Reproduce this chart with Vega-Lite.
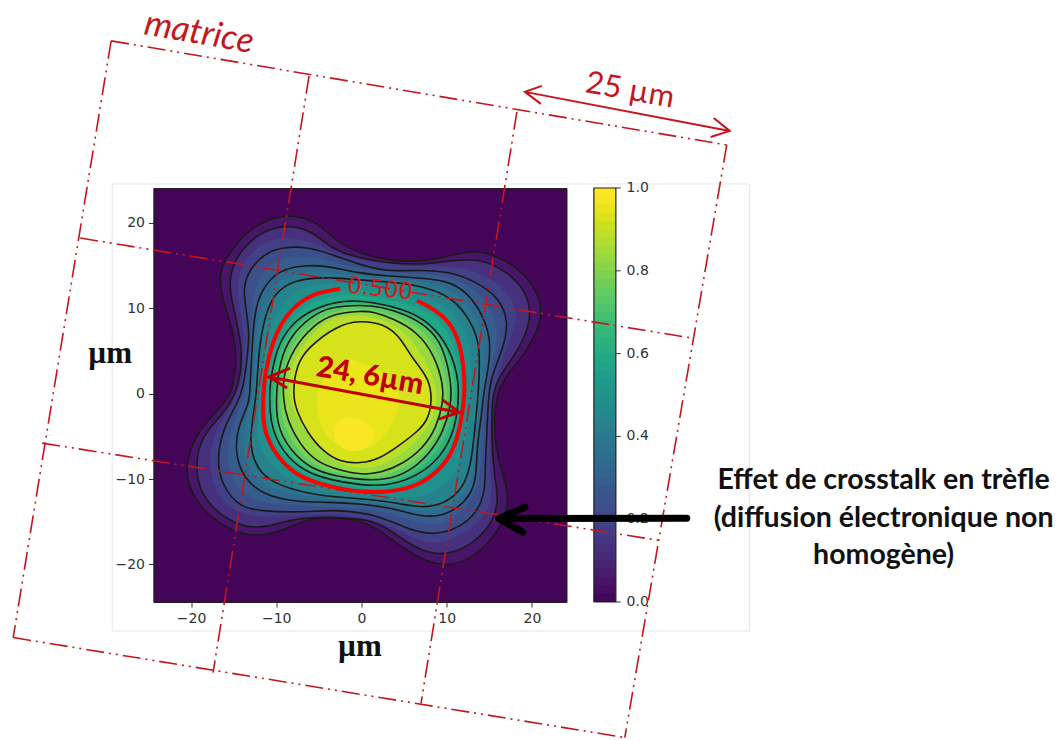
{"$schema":"https://vega.github.io/schema/vega-lite/v6.json","width":413,"height":414,"autosize":{"type":"none"},"padding":{"left":153.5,"top":188,"right":496.5,"bottom":138},"background":"white","view":{"fill":"#440558","stroke":"#222"},
"datasets":{
"c":[
{"m":1,"v":0.027,"i":0,"x":0,"y":18},{"m":1,"v":0.027,"i":1,"x":6,"y":17},{"m":1,"v":0.027,"i":2,"x":13,"y":18.5},{"m":1,"v":0.027,"i":3,"x":19.5,"y":16},{"m":1,"v":0.027,"i":4,"x":23,"y":11},{"m":1,"v":0.027,"i":5,"x":22.5,"y":6},{"m":1,"v":0.027,"i":6,"x":18.5,"y":1},{"m":1,"v":0.027,"i":7,"x":17.3,"y":-4},{"m":1,"v":0.027,"i":8,"x":18.5,"y":-10},{"m":1,"v":0.027,"i":9,"x":19,"y":-14},{"m":1,"v":0.027,"i":10,"x":17,"y":-18.5},{"m":1,"v":0.027,"i":11,"x":12.5,"y":-21.5},{"m":1,"v":0.027,"i":12,"x":7,"y":-21.5},{"m":1,"v":0.027,"i":13,"x":2,"y":-18},{"m":1,"v":0.027,"i":14,"x":-4,"y":-16},{"m":1,"v":0.027,"i":15,"x":-10,"y":-18},{"m":1,"v":0.027,"i":16,"x":-15,"y":-18.5},{"m":1,"v":0.027,"i":17,"x":-21,"y":-14},{"m":1,"v":0.027,"i":18,"x":-22.5,"y":-8},{"m":1,"v":0.027,"i":19,"x":-20,"y":-3},{"m":1,"v":0.027,"i":20,"x":-17,"y":0},{"m":1,"v":0.027,"i":21,"x":-16.5,"y":5},{"m":1,"v":0.027,"i":22,"x":-18,"y":12},{"m":1,"v":0.027,"i":23,"x":-18,"y":17},{"m":1,"v":0.027,"i":24,"x":-13,"y":22},{"m":1,"v":0.027,"i":25,"x":-8,"y":23},{"m":1,"v":0.027,"i":26,"x":-3,"y":20.5},
{"v":0.07,"i":0,"x":-0.2,"y":16.4},{"v":0.07,"i":1,"x":3.7,"y":15.5},{"v":0.07,"i":2,"x":7.6,"y":15.5},{"v":0.07,"i":3,"x":10.4,"y":16.2},{"v":0.07,"i":4,"x":13.1,"y":16.8},{"v":0.07,"i":5,"x":15.5,"y":16.3},{"v":0.07,"i":6,"x":18.6,"y":14.7},{"v":0.07,"i":7,"x":20.9,"y":11.6},{"v":0.07,"i":8,"x":21.3,"y":8.8},{"v":0.07,"i":9,"x":19.4,"y":4.9},{"v":0.07,"i":10,"x":17,"y":2.2},{"v":0.07,"i":11,"x":15.8,"y":0},{"v":0.07,"i":12,"x":15.5,"y":-4.4},{"v":0.07,"i":13,"x":16,"y":-7.6},{"v":0.07,"i":14,"x":17,"y":-10.7},{"v":0.07,"i":15,"x":17.4,"y":-13.4},{"v":0.07,"i":16,"x":15.5,"y":-17},{"v":0.07,"i":17,"x":12.7,"y":-19.5},{"v":0.07,"i":18,"x":10,"y":-20.2},{"v":0.07,"i":19,"x":7.6,"y":-19.7},{"v":0.07,"i":20,"x":4.9,"y":-18.1},{"v":0.07,"i":21,"x":2.2,"y":-16},{"v":0.07,"i":22,"x":-0.2,"y":-14.8},{"v":0.07,"i":23,"x":-3.7,"y":-14.4},{"v":0.07,"i":24,"x":-6.4,"y":-14.7},{"v":0.07,"i":25,"x":-9.2,"y":-16},{"v":0.07,"i":26,"x":-11.5,"y":-16.6},{"v":0.07,"i":27,"x":-13.5,"y":-16.6},{"v":0.07,"i":28,"x":-17,"y":-15.2},{"v":0.07,"i":29,"x":-19.8,"y":-12.3},{"v":0.07,"i":30,"x":-20.9,"y":-8.6},{"v":0.07,"i":31,"x":-19.3,"y":-4.5},{"v":0.07,"i":32,"x":-17,"y":-2.1},{"v":0.07,"i":33,"x":-15.4,"y":-0.2},{"v":0.07,"i":34,"x":-15,"y":1.4},{"v":0.07,"i":35,"x":-14.6,"y":4.1},{"v":0.07,"i":36,"x":-15,"y":7.3},{"v":0.07,"i":37,"x":-16,"y":10},{"v":0.07,"i":38,"x":-16.7,"y":13.1},{"v":0.07,"i":39,"x":-16.4,"y":15.1},{"v":0.07,"i":40,"x":-14.6,"y":17.8},{"v":0.07,"i":41,"x":-11.9,"y":20.2},{"v":0.07,"i":42,"x":-8.4,"y":21.1},{"v":0.07,"i":43,"x":-5.3,"y":20.2},{"v":0.07,"i":44,"x":-2.9,"y":17.8},
{"v":0.15,"i":0,"x":-0.2,"y":15.9},{"v":0.15,"i":1,"x":3,"y":15.3},{"v":0.15,"i":2,"x":6.9,"y":15.1},{"v":0.15,"i":3,"x":10,"y":15.5},{"v":0.15,"i":4,"x":12.7,"y":15.8},{"v":0.15,"i":5,"x":14.7,"y":15.5},{"v":0.15,"i":6,"x":17,"y":14.3},{"v":0.15,"i":7,"x":19.4,"y":12},{"v":0.15,"i":8,"x":20,"y":8.8},{"v":0.15,"i":9,"x":18.6,"y":5.3},{"v":0.15,"i":10,"x":16.2,"y":2.2},{"v":0.15,"i":11,"x":15.4,"y":0},{"v":0.15,"i":12,"x":15.3,"y":-2.1},{"v":0.15,"i":13,"x":15.3,"y":-6},{"v":0.15,"i":14,"x":15.6,"y":-9.9},{"v":0.15,"i":15,"x":16.2,"y":-12.7},{"v":0.15,"i":16,"x":15,"y":-15.8},{"v":0.15,"i":17,"x":12.3,"y":-18.1},{"v":0.15,"i":18,"x":9.6,"y":-18.9},{"v":0.15,"i":19,"x":7.2,"y":-18.5},{"v":0.15,"i":20,"x":4.9,"y":-17.1},{"v":0.15,"i":21,"x":2.2,"y":-15.2},{"v":0.15,"i":22,"x":-0.2,"y":-14.6},{"v":0.15,"i":23,"x":-5.7,"y":-14.4},{"v":0.15,"i":24,"x":-8.4,"y":-14.8},{"v":0.15,"i":25,"x":-11.1,"y":-15.6},{"v":0.15,"i":26,"x":-13.1,"y":-15.7},{"v":0.15,"i":27,"x":-15.4,"y":-15},{"v":0.15,"i":28,"x":-18.4,"y":-12.7},{"v":0.15,"i":29,"x":-19.6,"y":-9.1},{"v":0.15,"i":30,"x":-18.9,"y":-5},{"v":0.15,"i":31,"x":-16,"y":-2.2},{"v":0.15,"i":32,"x":-14.8,"y":0},{"v":0.15,"i":33,"x":-14.2,"y":2},{"v":0.15,"i":34,"x":-14,"y":5},{"v":0.15,"i":35,"x":-14.6,"y":8.4},{"v":0.15,"i":36,"x":-15.4,"y":11.6},{"v":0.15,"i":37,"x":-15.5,"y":13.9},{"v":0.15,"i":38,"x":-14.3,"y":16.8},{"v":0.15,"i":39,"x":-11.5,"y":19.2},{"v":0.15,"i":40,"x":-8.4,"y":19.8},{"v":0.15,"i":41,"x":-5.7,"y":19},{"v":0.15,"i":42,"x":-3.3,"y":16.8},
{"m":1,"v":0.2,"i":0,"x":0,"y":15.5},{"m":1,"v":0.2,"i":1,"x":7,"y":14.8},{"m":1,"v":0.2,"i":2,"x":12,"y":15},{"m":1,"v":0.2,"i":3,"x":16,"y":13.2},{"m":1,"v":0.2,"i":4,"x":18.6,"y":10},{"m":1,"v":0.2,"i":5,"x":17.7,"y":7},{"m":1,"v":0.2,"i":6,"x":15.8,"y":2.2},{"m":1,"v":0.2,"i":7,"x":15,"y":-3},{"m":1,"v":0.2,"i":8,"x":15,"y":-9},{"m":1,"v":0.2,"i":9,"x":15.5,"y":-12.3},{"m":1,"v":0.2,"i":10,"x":14,"y":-15.2},{"m":1,"v":0.2,"i":11,"x":10,"y":-17.5},{"m":1,"v":0.2,"i":12,"x":7.4,"y":-17.5},{"m":1,"v":0.2,"i":13,"x":4.9,"y":-16.3},{"m":1,"v":0.2,"i":14,"x":2,"y":-14.8},{"m":1,"v":0.2,"i":15,"x":-3,"y":-14},{"m":1,"v":0.2,"i":16,"x":-8,"y":-14.3},{"m":1,"v":0.2,"i":17,"x":-13,"y":-14.6},{"m":1,"v":0.2,"i":18,"x":-16.5,"y":-13},{"m":1,"v":0.2,"i":19,"x":-18,"y":-9},{"m":1,"v":0.2,"i":20,"x":-17.5,"y":-4.5},{"m":1,"v":0.2,"i":21,"x":-14.7,"y":-1},{"m":1,"v":0.2,"i":22,"x":-13.8,"y":3},{"m":1,"v":0.2,"i":23,"x":-13.8,"y":7.5},{"m":1,"v":0.2,"i":24,"x":-14.6,"y":11.5},{"m":1,"v":0.2,"i":25,"x":-14.5,"y":14},{"m":1,"v":0.2,"i":26,"x":-13,"y":16.8},{"m":1,"v":0.2,"i":27,"x":-10,"y":18.5},{"m":1,"v":0.2,"i":28,"x":-6,"y":18},{"m":1,"v":0.2,"i":29,"x":-3.5,"y":16.5},
{"v":0.25,"i":0,"x":-0.2,"y":15.1},{"v":0.25,"i":1,"x":3,"y":14.3},{"v":0.25,"i":2,"x":6.9,"y":14.5},{"v":0.25,"i":3,"x":10.4,"y":14.3},{"v":0.25,"i":4,"x":13.5,"y":13.1},{"v":0.25,"i":5,"x":16.2,"y":11.2},{"v":0.25,"i":6,"x":17.3,"y":8.4},{"v":0.25,"i":7,"x":16.6,"y":5.3},{"v":0.25,"i":8,"x":15.3,"y":2.2},{"v":0.25,"i":9,"x":14.9,"y":0},{"v":0.25,"i":10,"x":14.7,"y":-4.8},{"v":0.25,"i":11,"x":14.5,"y":-8.7},{"v":0.25,"i":12,"x":14.5,"y":-11.9},{"v":0.25,"i":13,"x":13.1,"y":-14.6},{"v":0.25,"i":14,"x":10.4,"y":-16.2},{"v":0.25,"i":15,"x":7.6,"y":-16.5},{"v":0.25,"i":16,"x":4.9,"y":-15.6},{"v":0.25,"i":17,"x":2.2,"y":-14.4},{"v":0.25,"i":18,"x":-0.2,"y":-13.9},{"v":0.25,"i":19,"x":-3.3,"y":-13.6},{"v":0.25,"i":20,"x":-7.2,"y":-13.9},{"v":0.25,"i":21,"x":-11.1,"y":-13.8},{"v":0.25,"i":22,"x":-14.3,"y":-13.4},{"v":0.25,"i":23,"x":-16.4,"y":-10.7},{"v":0.25,"i":24,"x":-17,"y":-7.6},{"v":0.25,"i":25,"x":-16.2,"y":-4},{"v":0.25,"i":26,"x":-14.5,"y":-1},{"v":0.25,"i":27,"x":-13.9,"y":0.6},{"v":0.25,"i":28,"x":-13.5,"y":3.4},{"v":0.25,"i":29,"x":-13.1,"y":6.9},{"v":0.25,"i":30,"x":-13.5,"y":9.6},{"v":0.25,"i":31,"x":-13.9,"y":12.3},{"v":0.25,"i":32,"x":-13.3,"y":14.3},{"v":0.25,"i":33,"x":-11.5,"y":16.4},{"v":0.25,"i":34,"x":-9.2,"y":17.2},{"v":0.25,"i":35,"x":-6.4,"y":17.2},{"v":0.25,"i":36,"x":-3.7,"y":16.4},
{"m":1,"v":0.3,"i":0,"x":0,"y":14.5},{"m":1,"v":0.3,"i":1,"x":6.5,"y":14},{"m":1,"v":0.3,"i":2,"x":10.2,"y":13.8},{"m":1,"v":0.3,"i":3,"x":13,"y":12.5},{"m":1,"v":0.3,"i":4,"x":15.4,"y":10},{"m":1,"v":0.3,"i":5,"x":16.2,"y":6.5},{"m":1,"v":0.3,"i":6,"x":15,"y":2.5},{"m":1,"v":0.3,"i":7,"x":14.5,"y":0},{"m":1,"v":0.3,"i":8,"x":14.2,"y":-5},{"m":1,"v":0.3,"i":9,"x":14,"y":-9},{"m":1,"v":0.3,"i":10,"x":13.3,"y":-12.3},{"m":1,"v":0.3,"i":11,"x":10,"y":-15.3},{"m":1,"v":0.3,"i":12,"x":7.2,"y":-15.4},{"m":1,"v":0.3,"i":13,"x":3.5,"y":-14},{"m":1,"v":0.3,"i":14,"x":0,"y":-13.4},{"m":1,"v":0.3,"i":15,"x":-5,"y":-13.2},{"m":1,"v":0.3,"i":16,"x":-9.5,"y":-13},{"m":1,"v":0.3,"i":17,"x":-13,"y":-12.5},{"m":1,"v":0.3,"i":18,"x":-15.2,"y":-10.3},{"m":1,"v":0.3,"i":19,"x":-15.9,"y":-7.4},{"m":1,"v":0.3,"i":20,"x":-15.3,"y":-4},{"m":1,"v":0.3,"i":21,"x":-13.7,"y":-0.5},{"m":1,"v":0.3,"i":22,"x":-13.2,"y":3.8},{"m":1,"v":0.3,"i":23,"x":-12.9,"y":7.3},{"m":1,"v":0.3,"i":24,"x":-12.9,"y":10.2},{"m":1,"v":0.3,"i":25,"x":-12.3,"y":13.5},{"m":1,"v":0.3,"i":26,"x":-10,"y":15.9},{"m":1,"v":0.3,"i":27,"x":-6.2,"y":16.2},{"m":1,"v":0.3,"i":28,"x":-3.7,"y":15.6},
{"v":0.35,"i":0,"x":-0.2,"y":14.1},{"v":0.35,"i":1,"x":3,"y":13.8},{"v":0.35,"i":2,"x":6.1,"y":13.6},{"v":0.35,"i":3,"x":10,"y":13.3},{"v":0.35,"i":4,"x":12.3,"y":12},{"v":0.35,"i":5,"x":14.3,"y":9.2},{"v":0.35,"i":6,"x":15.2,"y":6.1},{"v":0.35,"i":7,"x":14.9,"y":3},{"v":0.35,"i":8,"x":14.3,"y":0},{"v":0.35,"i":9,"x":14.1,"y":-2.5},{"v":0.35,"i":10,"x":13.5,"y":-6.4},{"v":0.35,"i":11,"x":13.5,"y":-10.3},{"v":0.35,"i":12,"x":12.3,"y":-12.7},{"v":0.35,"i":13,"x":9.6,"y":-14.4},{"v":0.35,"i":14,"x":6.9,"y":-14.4},{"v":0.35,"i":15,"x":3.7,"y":-13.4},{"v":0.35,"i":16,"x":0,"y":-12.9},{"v":0.35,"i":17,"x":-3.7,"y":-12.7},{"v":0.35,"i":18,"x":-7.6,"y":-12.7},{"v":0.35,"i":19,"x":-11.5,"y":-11.9},{"v":0.35,"i":20,"x":-13.8,"y":-9.9},{"v":0.35,"i":21,"x":-14.8,"y":-7.2},{"v":0.35,"i":22,"x":-14.6,"y":-4},{"v":0.35,"i":23,"x":-13.1,"y":-1},{"v":0.35,"i":24,"x":-13.1,"y":0.6},{"v":0.35,"i":25,"x":-12.9,"y":4.1},{"v":0.35,"i":26,"x":-12.7,"y":7.7},{"v":0.35,"i":27,"x":-12.3,"y":10.8},{"v":0.35,"i":28,"x":-11.1,"y":13.1},{"v":0.35,"i":29,"x":-9.2,"y":14.7},{"v":0.35,"i":30,"x":-6,"y":15.1},{"v":0.35,"i":31,"x":-3.7,"y":14.9},
{"m":1,"v":0.4,"i":0,"x":0,"y":13.7},{"m":1,"v":0.4,"i":1,"x":5,"y":13.4},{"m":1,"v":0.4,"i":2,"x":8.8,"y":12.9},{"m":1,"v":0.4,"i":3,"x":11.5,"y":11.6},{"m":1,"v":0.4,"i":4,"x":13.6,"y":8.8},{"m":1,"v":0.4,"i":5,"x":14.5,"y":5.9},{"m":1,"v":0.4,"i":6,"x":14.3,"y":2.5},{"m":1,"v":0.4,"i":7,"x":14,"y":0},{"m":1,"v":0.4,"i":8,"x":13.7,"y":-3.5},{"m":1,"v":0.4,"i":9,"x":13.2,"y":-7.2},{"m":1,"v":0.4,"i":10,"x":13.2,"y":-9.2},{"m":1,"v":0.4,"i":11,"x":12.1,"y":-11.9},{"m":1,"v":0.4,"i":12,"x":9.6,"y":-13.7},{"m":1,"v":0.4,"i":13,"x":6.9,"y":-13.9},{"m":1,"v":0.4,"i":14,"x":3.7,"y":-13},{"m":1,"v":0.4,"i":15,"x":0,"y":-12.6},{"m":1,"v":0.4,"i":16,"x":-5,"y":-12.3},{"m":1,"v":0.4,"i":17,"x":-11,"y":-11.2},{"m":1,"v":0.4,"i":18,"x":-13,"y":-9.3},{"m":1,"v":0.4,"i":19,"x":-14,"y":-6.6},{"m":1,"v":0.4,"i":20,"x":-13.8,"y":-4},{"m":1,"v":0.4,"i":21,"x":-12.7,"y":0.4},{"m":1,"v":0.4,"i":22,"x":-12.5,"y":3.4},{"m":1,"v":0.4,"i":23,"x":-12.3,"y":7},{"m":1,"v":0.4,"i":24,"x":-11.8,"y":10},{"m":1,"v":0.4,"i":25,"x":-10.6,"y":12.5},{"m":1,"v":0.4,"i":26,"x":-8.6,"y":14},{"m":1,"v":0.4,"i":27,"x":-5,"y":14.4},
{"v":0.45,"i":0,"x":-0.2,"y":13.3},{"v":0.45,"i":1,"x":3.7,"y":13.1},{"v":0.45,"i":2,"x":7.6,"y":12.5},{"v":0.45,"i":3,"x":10.8,"y":11.2},{"v":0.45,"i":4,"x":12.9,"y":8.4},{"v":0.45,"i":5,"x":13.9,"y":5.7},{"v":0.45,"i":6,"x":13.8,"y":2},{"v":0.45,"i":7,"x":13.7,"y":0},{"v":0.45,"i":8,"x":13.3,"y":-4.1},{"v":0.45,"i":9,"x":12.9,"y":-8},{"v":0.45,"i":10,"x":12,"y":-11.1},{"v":0.45,"i":11,"x":9.6,"y":-13},{"v":0.45,"i":12,"x":6.9,"y":-13.4},{"v":0.45,"i":13,"x":3.7,"y":-12.7},{"v":0.45,"i":14,"x":0,"y":-12.3},{"v":0.45,"i":15,"x":-2.9,"y":-12.1},{"v":0.45,"i":16,"x":-6.4,"y":-11.7},{"v":0.45,"i":17,"x":-10.4,"y":-10.5},{"v":0.45,"i":18,"x":-12.3,"y":-8.8},{"v":0.45,"i":19,"x":-13.1,"y":-6},{"v":0.45,"i":20,"x":-12.9,"y":-4},{"v":0.45,"i":21,"x":-12.3,"y":0.2},{"v":0.45,"i":22,"x":-12.2,"y":2.6},{"v":0.45,"i":23,"x":-11.9,"y":6.1},{"v":0.45,"i":24,"x":-11.3,"y":9.2},{"v":0.45,"i":25,"x":-10.2,"y":11.8},{"v":0.45,"i":26,"x":-8,"y":13.3},{"v":0.45,"i":27,"x":-4.5,"y":13.7},
{"m":1,"v":0.5,"i":0,"x":2,"y":12.7},{"m":1,"v":0.5,"i":1,"x":6.5,"y":11.7},{"m":1,"v":0.5,"i":2,"x":9.6,"y":10.6},{"m":1,"v":0.5,"i":3,"x":11.6,"y":8.4},{"m":1,"v":0.5,"i":4,"x":12.8,"y":5.7},{"m":1,"v":0.5,"i":5,"x":13,"y":1},{"m":1,"v":0.5,"i":6,"x":12.6,"y":-3},{"m":1,"v":0.5,"i":7,"x":12,"y":-7},{"m":1,"v":0.5,"i":8,"x":10.8,"y":-9.9},{"m":1,"v":0.5,"i":9,"x":8.2,"y":-11.9},{"m":1,"v":0.5,"i":10,"x":5,"y":-12.3},{"m":1,"v":0.5,"i":11,"x":1.8,"y":-12},{"m":1,"v":0.5,"i":12,"x":-3.3,"y":-11.5},{"m":1,"v":0.5,"i":13,"x":-6.8,"y":-10.8},{"m":1,"v":0.5,"i":14,"x":-10.1,"y":-9.2},{"m":1,"v":0.5,"i":15,"x":-12.2,"y":-6},{"m":1,"v":0.5,"i":16,"x":-12.2,"y":-3},{"m":1,"v":0.5,"i":17,"x":-11.9,"y":0.5},{"m":1,"v":0.5,"i":18,"x":-11.4,"y":4.5},{"m":1,"v":0.5,"i":19,"x":-10.5,"y":8.5},{"m":1,"v":0.5,"i":20,"x":-9,"y":11},{"m":1,"v":0.5,"i":21,"x":-6.8,"y":12.7},{"m":1,"v":0.5,"i":22,"x":-3,"y":13},
{"v":0.55,"i":0,"x":6.5,"y":10.9},{"v":0.55,"i":1,"x":8.4,"y":10},{"v":0.55,"i":2,"x":10.4,"y":8.4},{"v":0.55,"i":3,"x":11.7,"y":5.7},{"v":0.55,"i":4,"x":12.2,"y":1},{"v":0.55,"i":5,"x":11.9,"y":-2.1},{"v":0.55,"i":6,"x":11.1,"y":-6},{"v":0.55,"i":7,"x":9.6,"y":-8.6},{"v":0.55,"i":8,"x":6.9,"y":-10.7},{"v":0.55,"i":9,"x":3.7,"y":-11.5},{"v":0.55,"i":10,"x":0,"y":-11.6},{"v":0.55,"i":11,"x":-3.7,"y":-10.9},{"v":0.55,"i":12,"x":-7.2,"y":-9.9},{"v":0.55,"i":13,"x":-9.8,"y":-7.6},{"v":0.55,"i":14,"x":-11.3,"y":-4.8},{"v":0.55,"i":15,"x":-11.6,"y":-2.5},{"v":0.55,"i":16,"x":-11.5,"y":1},{"v":0.55,"i":17,"x":-10.9,"y":4.5},{"v":0.55,"i":18,"x":-9.8,"y":7.7},{"v":0.55,"i":19,"x":-8,"y":10.2},{"v":0.55,"i":20,"x":-5.6,"y":11.8},{"v":0.55,"i":21,"x":-2.5,"y":12.3},{"v":0.55,"i":22,"x":2,"y":12.1},
{"m":1,"v":0.6,"i":0,"x":0.5,"y":11.6},{"m":1,"v":0.6,"i":1,"x":5.7,"y":10.5},{"m":1,"v":0.6,"i":2,"x":9.2,"y":8.9},{"m":1,"v":0.6,"i":3,"x":11,"y":5.6},{"m":1,"v":0.6,"i":4,"x":11.85,"y":1.2},{"m":1,"v":0.6,"i":5,"x":11.6,"y":-2.1},{"m":1,"v":0.6,"i":6,"x":10.85,"y":-5.6},{"m":1,"v":0.6,"i":7,"x":9.2,"y":-8.3},{"m":1,"v":0.6,"i":8,"x":6.4,"y":-10.3},{"m":1,"v":0.6,"i":9,"x":3.3,"y":-11.15},{"m":1,"v":0.6,"i":10,"x":-0.1,"y":-11.15},{"m":1,"v":0.6,"i":11,"x":-3.7,"y":-10.5},{"m":1,"v":0.6,"i":12,"x":-7,"y":-9.5},{"m":1,"v":0.6,"i":13,"x":-9.5,"y":-7.2},{"m":1,"v":0.6,"i":14,"x":-11,"y":-4.2},{"m":1,"v":0.6,"i":15,"x":-11.2,"y":-0.5},{"m":1,"v":0.6,"i":16,"x":-10.8,"y":3},{"m":1,"v":0.6,"i":17,"x":-10,"y":6},{"m":1,"v":0.6,"i":18,"x":-8.2,"y":9.1},{"m":1,"v":0.6,"i":19,"x":-5.8,"y":10.8},{"m":1,"v":0.6,"i":20,"x":-2.7,"y":11.6},
{"v":0.65,"i":0,"x":-0.2,"y":11},{"v":0.65,"i":1,"x":4.9,"y":10},{"v":0.65,"i":2,"x":8,"y":8.4},{"v":0.65,"i":3,"x":10.4,"y":5.3},{"v":0.65,"i":4,"x":11.5,"y":1.4},{"v":0.65,"i":5,"x":11.3,"y":-2.1},{"v":0.65,"i":6,"x":10.6,"y":-5.2},{"v":0.65,"i":7,"x":8.8,"y":-8},{"v":0.65,"i":8,"x":6,"y":-9.9},{"v":0.65,"i":9,"x":3,"y":-10.8},{"v":0.65,"i":10,"x":-0.2,"y":-10.7},{"v":0.65,"i":11,"x":-3.7,"y":-10.1},{"v":0.65,"i":12,"x":-6.8,"y":-9.1},{"v":0.65,"i":13,"x":-9.3,"y":-6.8},{"v":0.65,"i":14,"x":-10.7,"y":-3.7},{"v":0.65,"i":15,"x":-10.8,"y":0},{"v":0.65,"i":16,"x":-10.7,"y":1.4},{"v":0.65,"i":17,"x":-10,"y":5.3},{"v":0.65,"i":18,"x":-8.4,"y":8},{"v":0.65,"i":19,"x":-6,"y":9.8},{"v":0.65,"i":20,"x":-3,"y":10.8},
{"m":1,"v":0.7,"i":0,"x":1,"y":10.7},{"m":1,"v":0.7,"i":1,"x":4.9,"y":9.7},{"m":1,"v":0.7,"i":2,"x":7.8,"y":8.2},{"m":1,"v":0.7,"i":3,"x":10,"y":5.5},{"m":1,"v":0.7,"i":4,"x":11.05,"y":1.2},{"m":1,"v":0.7,"i":5,"x":10.9,"y":-1.7},{"m":1,"v":0.7,"i":6,"x":10.1,"y":-4.8},{"m":1,"v":0.7,"i":7,"x":8.4,"y":-7.5},{"m":1,"v":0.7,"i":8,"x":5.85,"y":-9.5},{"m":1,"v":0.7,"i":9,"x":3,"y":-10.45},{"m":1,"v":0.7,"i":10,"x":-0.1,"y":-10.4},{"m":1,"v":0.7,"i":11,"x":-3.3,"y":-9.9},{"m":1,"v":0.7,"i":12,"x":-6.4,"y":-9},{"m":1,"v":0.7,"i":13,"x":-8.9,"y":-6.7},{"m":1,"v":0.7,"i":14,"x":-10.35,"y":-3.7},{"m":1,"v":0.7,"i":15,"x":-10.4,"y":0.1},{"m":1,"v":0.7,"i":16,"x":-9.8,"y":4.5},{"m":1,"v":0.7,"i":17,"x":-8.4,"y":7.35},{"m":1,"v":0.7,"i":18,"x":-6,"y":9.4},{"m":1,"v":0.7,"i":19,"x":-3.3,"y":10.5},
{"v":0.75,"i":0,"x":2.2,"y":10.2},{"v":0.75,"i":1,"x":4.9,"y":9.4},{"v":0.75,"i":2,"x":7.6,"y":8},{"v":0.75,"i":3,"x":9.6,"y":5.7},{"v":0.75,"i":4,"x":10.6,"y":1},{"v":0.75,"i":5,"x":10.5,"y":-1.3},{"v":0.75,"i":6,"x":9.6,"y":-4.5},{"v":0.75,"i":7,"x":8,"y":-7},{"v":0.75,"i":8,"x":5.7,"y":-9.1},{"v":0.75,"i":9,"x":3,"y":-10.1},{"v":0.75,"i":10,"x":0,"y":-10.1},{"v":0.75,"i":11,"x":-2.9,"y":-9.7},{"v":0.75,"i":12,"x":-6,"y":-8.8},{"v":0.75,"i":13,"x":-8.4,"y":-6.6},{"v":0.75,"i":14,"x":-10,"y":-3.7},{"v":0.75,"i":15,"x":-10,"y":0.2},{"v":0.75,"i":16,"x":-9.6,"y":3.7},{"v":0.75,"i":17,"x":-8.4,"y":6.7},{"v":0.75,"i":18,"x":-6,"y":9},{"v":0.75,"i":19,"x":-3.7,"y":10.2},{"v":0.75,"i":20,"x":0,"y":10.4},
{"m":1,"v":0.8,"i":0,"x":1.2,"y":9.95},{"m":1,"v":0.8,"i":1,"x":4.3,"y":9.1},{"m":1,"v":0.8,"i":2,"x":7,"y":7.7},{"m":1,"v":0.8,"i":3,"x":9.1,"y":5.1},{"m":1,"v":0.8,"i":4,"x":10.1,"y":1},{"m":1,"v":0.8,"i":5,"x":10.05,"y":-1.1},{"m":1,"v":0.8,"i":6,"x":9.2,"y":-4.25},{"m":1,"v":0.8,"i":7,"x":7.6,"y":-6.7},{"m":1,"v":0.8,"i":8,"x":5.3,"y":-8.65},{"m":1,"v":0.8,"i":9,"x":2.6,"y":-9.7},{"m":1,"v":0.8,"i":10,"x":0,"y":-9.8},{"m":1,"v":0.8,"i":11,"x":-2.7,"y":-9.35},{"m":1,"v":0.8,"i":12,"x":-5.65,"y":-8.4},{"m":1,"v":0.8,"i":13,"x":-7.8,"y":-6.3},{"m":1,"v":0.8,"i":14,"x":-9.4,"y":-3.3},{"m":1,"v":0.8,"i":15,"x":-9.6,"y":-0.1},{"m":1,"v":0.8,"i":16,"x":-8.8,"y":4.5},{"m":1,"v":0.8,"i":17,"x":-7.2,"y":7},{"m":1,"v":0.8,"i":18,"x":-4.8,"y":9.1},{"m":1,"v":0.8,"i":19,"x":-2,"y":10},
{"v":0.85,"i":0,"x":1.4,"y":9.6},{"v":0.85,"i":1,"x":3.7,"y":8.8},{"v":0.85,"i":2,"x":6.5,"y":7.3},{"v":0.85,"i":3,"x":8.6,"y":4.5},{"v":0.85,"i":4,"x":9.6,"y":1},{"v":0.85,"i":5,"x":9.6,"y":-0.9},{"v":0.85,"i":6,"x":8.8,"y":-4},{"v":0.85,"i":7,"x":7.2,"y":-6.4},{"v":0.85,"i":8,"x":4.9,"y":-8.2},{"v":0.85,"i":9,"x":2.2,"y":-9.3},{"v":0.85,"i":10,"x":0,"y":-9.5},{"v":0.85,"i":11,"x":-2.5,"y":-9},{"v":0.85,"i":12,"x":-5.3,"y":-8},{"v":0.85,"i":13,"x":-7.2,"y":-6},{"v":0.85,"i":14,"x":-8.8,"y":-2.9},{"v":0.85,"i":15,"x":-9.2,"y":-0.5},{"v":0.85,"i":16,"x":-9.2,"y":2.2},{"v":0.85,"i":17,"x":-8,"y":5.3},{"v":0.85,"i":18,"x":-5.7,"y":8},{"v":0.85,"i":19,"x":-3.3,"y":9.4},{"v":0.85,"i":20,"x":0,"y":9.7},
{"m":1,"v":0.9,"i":0,"x":0.6,"y":9.2},{"m":1,"v":0.9,"i":1,"x":3.2,"y":8.4},{"m":1,"v":0.9,"i":2,"x":5.6,"y":6.9},{"m":1,"v":0.9,"i":3,"x":7.2,"y":4.4},{"m":1,"v":0.9,"i":4,"x":8.9,"y":1},{"m":1,"v":0.9,"i":5,"x":8.9,"y":-1.8},{"m":1,"v":0.9,"i":6,"x":7.6,"y":-4.3},{"m":1,"v":0.9,"i":7,"x":5.7,"y":-6.3},{"m":1,"v":0.9,"i":8,"x":3.5,"y":-7.9},{"m":1,"v":0.9,"i":9,"x":1,"y":-8.8},{"m":1,"v":0.9,"i":10,"x":-1.3,"y":-8.7},{"m":1,"v":0.9,"i":11,"x":-3.9,"y":-7.4},{"m":1,"v":0.9,"i":12,"x":-5.9,"y":-5.3},{"m":1,"v":0.9,"i":13,"x":-7.4,"y":-3.3},{"m":1,"v":0.9,"i":14,"x":-8.65,"y":-0.2},{"m":1,"v":0.9,"i":15,"x":-8.4,"y":2.8},{"m":1,"v":0.9,"i":16,"x":-7.2,"y":5.3},{"m":1,"v":0.9,"i":17,"x":-4.3,"y":8.7},{"m":1,"v":0.9,"i":18,"x":-1.5,"y":9.1},
{"v":0.94,"i":0,"x":-0.2,"y":8.6},{"v":0.94,"i":1,"x":2.6,"y":8.2},{"v":0.94,"i":2,"x":4.5,"y":6.7},{"v":0.94,"i":3,"x":5.7,"y":4.5},{"v":0.94,"i":4,"x":7.6,"y":2.2},{"v":0.94,"i":5,"x":8.3,"y":0.2},{"v":0.94,"i":6,"x":8,"y":-2.9},{"v":0.94,"i":7,"x":6.5,"y":-4.5},{"v":0.94,"i":8,"x":4.5,"y":-6},{"v":0.94,"i":9,"x":2.2,"y":-7.6},{"v":0.94,"i":10,"x":-0.2,"y":-8.2},{"v":0.94,"i":11,"x":-2.5,"y":-8},{"v":0.94,"i":12,"x":-4.5,"y":-6.8},{"v":0.94,"i":13,"x":-6.4,"y":-4.5},{"v":0.94,"i":14,"x":-7.6,"y":-2.1},{"v":0.94,"i":15,"x":-8.1,"y":0},{"v":0.94,"i":16,"x":-7.6,"y":3.4},{"v":0.94,"i":17,"x":-6.4,"y":5.3},{"v":0.94,"i":18,"x":-2.9,"y":8},
{"m":1,"v":0.97,"i":0,"x":-1,"y":4},{"m":1,"v":0.97,"i":1,"x":2,"y":3},{"m":1,"v":0.97,"i":2,"x":5,"y":0},{"m":1,"v":0.97,"i":3,"x":4,"y":-3},{"m":1,"v":0.97,"i":4,"x":2,"y":-6},{"m":1,"v":0.97,"i":5,"x":-1,"y":-7},{"m":1,"v":0.97,"i":6,"x":-4,"y":-5.5},{"m":1,"v":0.97,"i":7,"x":-5.5,"y":-2},{"m":1,"v":0.97,"i":8,"x":-5,"y":1.5},{"m":1,"v":0.97,"i":9,"x":-2,"y":4},
{"m":1,"v":0.995,"i":0,"x":-1,"y":-2.5},{"m":1,"v":0.995,"i":1,"x":2,"y":-4},{"m":1,"v":0.995,"i":2,"x":1,"y":-6.5},{"m":1,"v":0.995,"i":3,"x":-1.5,"y":-7},{"m":1,"v":0.995,"i":4,"x":-3.5,"y":-5.5},{"m":1,"v":0.995,"i":5,"x":-3,"y":-3}
],
"bar":[{"x":27.26,"x2":29.84,"v":0.025,"y":-24.4,"y2":-23.33},{"x":27.26,"x2":29.84,"v":0.045,"y":-23.43,"y2":-22.36},{"x":27.26,"x2":29.84,"v":0.065,"y":-22.46,"y2":-21.39},{"x":27.26,"x2":29.84,"v":0.085,"y":-21.49,"y2":-20.42},{"x":27.26,"x2":29.84,"v":0.105,"y":-20.52,"y2":-19.45},{"x":27.26,"x2":29.84,"v":0.125,"y":-19.55,"y2":-18.48},{"x":27.26,"x2":29.84,"v":0.145,"y":-18.58,"y2":-17.51},{"x":27.26,"x2":29.84,"v":0.165,"y":-17.61,"y2":-16.54},{"x":27.26,"x2":29.84,"v":0.185,"y":-16.64,"y2":-15.57},{"x":27.26,"x2":29.84,"v":0.205,"y":-15.67,"y2":-14.6},{"x":27.26,"x2":29.84,"v":0.225,"y":-14.7,"y2":-13.63},{"x":27.26,"x2":29.84,"v":0.245,"y":-13.73,"y2":-12.66},{"x":27.26,"x2":29.84,"v":0.265,"y":-12.76,"y2":-11.69},{"x":27.26,"x2":29.84,"v":0.285,"y":-11.79,"y2":-10.72},{"x":27.26,"x2":29.84,"v":0.305,"y":-10.82,"y2":-9.75},{"x":27.26,"x2":29.84,"v":0.325,"y":-9.85,"y2":-8.78},{"x":27.26,"x2":29.84,"v":0.345,"y":-8.88,"y2":-7.81},{"x":27.26,"x2":29.84,"v":0.365,"y":-7.91,"y2":-6.84},{"x":27.26,"x2":29.84,"v":0.385,"y":-6.94,"y2":-5.87},{"x":27.26,"x2":29.84,"v":0.405,"y":-5.97,"y2":-4.9},{"x":27.26,"x2":29.84,"v":0.425,"y":-5,"y2":-3.93},{"x":27.26,"x2":29.84,"v":0.445,"y":-4.03,"y2":-2.96},{"x":27.26,"x2":29.84,"v":0.465,"y":-3.06,"y2":-1.99},{"x":27.26,"x2":29.84,"v":0.485,"y":-2.09,"y2":-1.02},{"x":27.26,"x2":29.84,"v":0.505,"y":-1.12,"y2":-0.05},{"x":27.26,"x2":29.84,"v":0.525,"y":-0.15,"y2":0.92},{"x":27.26,"x2":29.84,"v":0.545,"y":0.82,"y2":1.89},{"x":27.26,"x2":29.84,"v":0.565,"y":1.79,"y2":2.86},{"x":27.26,"x2":29.84,"v":0.585,"y":2.76,"y2":3.83},{"x":27.26,"x2":29.84,"v":0.605,"y":3.73,"y2":4.8},{"x":27.26,"x2":29.84,"v":0.625,"y":4.7,"y2":5.77},{"x":27.26,"x2":29.84,"v":0.645,"y":5.67,"y2":6.74},{"x":27.26,"x2":29.84,"v":0.665,"y":6.64,"y2":7.71},{"x":27.26,"x2":29.84,"v":0.685,"y":7.61,"y2":8.68},{"x":27.26,"x2":29.84,"v":0.705,"y":8.58,"y2":9.65},{"x":27.26,"x2":29.84,"v":0.725,"y":9.55,"y2":10.62},{"x":27.26,"x2":29.84,"v":0.745,"y":10.52,"y2":11.59},{"x":27.26,"x2":29.84,"v":0.765,"y":11.49,"y2":12.56},{"x":27.26,"x2":29.84,"v":0.785,"y":12.46,"y2":13.53},{"x":27.26,"x2":29.84,"v":0.805,"y":13.43,"y2":14.5},{"x":27.26,"x2":29.84,"v":0.825,"y":14.4,"y2":15.47},{"x":27.26,"x2":29.84,"v":0.845,"y":15.37,"y2":16.44},{"x":27.26,"x2":29.84,"v":0.865,"y":16.34,"y2":17.41},{"x":27.26,"x2":29.84,"v":0.885,"y":17.31,"y2":18.38},{"x":27.26,"x2":29.84,"v":0.905,"y":18.28,"y2":19.35},{"x":27.26,"x2":29.84,"v":0.925,"y":19.25,"y2":20.32},{"x":27.26,"x2":29.84,"v":0.945,"y":20.22,"y2":21.29},{"x":27.26,"x2":29.84,"v":0.965,"y":21.19,"y2":22.26},{"x":27.26,"x2":29.84,"v":0.985,"y":22.16,"y2":23.23},{"x":27.26,"x2":29.84,"v":1,"y":23.13,"y2":24.1}],
"barframe":[{"i":0,"x":27.26,"y":-24.4},{"i":1,"x":29.84,"y":-24.4},{"i":2,"x":29.84,"y":24.1},{"i":3,"x":27.26,"y":24.1},{"i":4,"x":27.26,"y":-24.4}],
"barlabels":[{"x":31.1,"y":-24.4,"t":"0.0"},{"x":31.1,"y":-14.7,"t":"0.2"},{"x":31.1,"y":-5,"t":"0.4"},{"x":31.1,"y":4.7,"t":"0.6"},{"x":31.1,"y":14.4,"t":"0.8"},{"x":31.1,"y":24.1,"t":"1.0"}],
"grid":[
{"id":"top","i":0,"x":-29.37,"y":41.34},{"id":"top","i":1,"x":42.85,"y":29.14},
{"id":"left","i":0,"x":-29.37,"y":41.34},{"id":"left","i":1,"x":-40.86,"y":-28.56},
{"id":"right","i":0,"x":42.85,"y":29.14},{"id":"right","i":1,"x":30.89,"y":-40.28},
{"id":"bottom","i":0,"x":-40.86,"y":-28.56},{"id":"bottom","i":1,"x":30.89,"y":-40.28},
{"id":"v1","i":0,"x":-6.15,"y":37.23},{"id":"v1","i":1,"x":-17.41,"y":-32.66},
{"id":"v2","i":0,"x":18.23,"y":33.01},{"id":"v2","i":1,"x":6.98,"y":-36.27},
{"id":"h1","i":0,"x":-33,"y":18.24},{"id":"h1","i":1,"x":38.75,"y":6.52},
{"id":"h2","i":0,"x":-37.46,"y":-5.79},{"id":"h2","i":1,"x":34.99,"y":-17.19}
],
"ticks":[{"id":0,"x":29.84,"y":-24.4},{"id":0,"x":30.42,"y":-24.4},{"id":1,"x":29.84,"y":-14.7},{"id":1,"x":30.42,"y":-14.7},{"id":2,"x":29.84,"y":-5},{"id":2,"x":30.42,"y":-5},{"id":3,"x":29.84,"y":4.7},{"id":3,"x":30.42,"y":4.7},{"id":4,"x":29.84,"y":14.4},{"id":4,"x":30.42,"y":14.4},{"id":5,"x":29.84,"y":24.1},{"id":5,"x":30.42,"y":24.1}],
"a25":[{"i":0,"x":21.16,"y":36.06},{"i":1,"x":19.17,"y":35.36},{"i":2,"x":21.04,"y":33.96},{"i":3,"x":19.17,"y":35.36},{"i":4,"x":43.2,"y":30.79},{"i":5,"x":41.32,"y":32.31},{"i":6,"x":43.2,"y":30.79},{"i":7,"x":40.97,"y":30.08}],
"a24":[{"i":0,"x":-8.38,"y":3},{"i":1,"x":-10.84,"y":1.95},{"i":2,"x":-8.73,"y":0.66},{"i":3,"x":-10.84,"y":1.95},{"i":4,"x":11.43,"y":-2.16},{"i":5,"x":9.55,"y":-0.75},{"i":6,"x":11.43,"y":-2.16},{"i":7,"x":9.09,"y":-2.98}],
"ablack":[{"i":0,"x":19.17,"y":-13.29},{"i":1,"x":16.1,"y":-14.62},{"i":2,"x":18.93,"y":-16.22},{"i":3,"x":16.1,"y":-14.62},{"i":4,"x":38.16,"y":-14.58}]
},
"encoding":{
"x":{"field":"x","type":"quantitative","title":null,"scale":{"domain":[-24.4,24.05],"nice":false,"zero":false},"axis":{"values":[-20,-10,0,10,20],"grid":false,"domainColor":"#222","tickColor":"#333","labelColor":"#333","labelFont":"DejaVu Sans","labelFontSize":14,"tickSize":5,"labelPadding":4}},
"y":{"field":"y","type":"quantitative","title":null,"scale":{"domain":[-24.4,24.1],"nice":false,"zero":false},"axis":{"values":[-20,-10,0,10,20],"grid":false,"domainColor":"#222","tickColor":"#333","labelColor":"#333","labelFont":"DejaVu Sans","labelFontSize":14,"tickSize":5,"labelPadding":4}}
},
"layer":[
{"data":{"values":[{"i":0,"x":-29.25,"y":24.57},{"i":1,"x":45.5,"y":24.57},{"i":2,"x":45.5,"y":-27.8},{"i":3,"x":-29.25,"y":-27.8},{"i":4,"x":-29.25,"y":24.57}]},"mark":{"type":"line","stroke":"#e6e6e6","strokeWidth":1,"clip":false},"encoding":{"order":{"field":"i"}}},
{"data":{"name":"c"},"mark":{"type":"line","filled":true,"interpolate":"basis-closed","strokeWidth":0},"encoding":{"detail":{"field":"v"},"order":{"field":"i"},"fill":{"field":"v","type":"quantitative","scale":{"scheme":"viridis","domain":[0.015,1]},"legend":null}}},
{"data":{"name":"c"},"transform":[{"filter":"!datum.m && datum.v!=0.55"}],"mark":{"type":"line","interpolate":"basis-closed","stroke":"#1a1a1a","strokeWidth":1.6},"encoding":{"detail":{"field":"v"},"order":{"field":"i"}}},
{"data":{"name":"c"},"transform":[{"filter":"datum.v==0.55 && datum.i<22"}],"mark":{"type":"line","interpolate":"basis","stroke":"#ff0000","strokeWidth":4},"encoding":{"order":{"field":"i"}}},
{"data":{"name":"bar"},"mark":{"type":"rect"},"encoding":{"x2":{"field":"x2"},"y2":{"field":"y2"},"fill":{"field":"v","type":"quantitative","scale":{"scheme":"viridis","domain":[0.015,1]},"legend":null}}},
{"data":{"name":"barframe"},"mark":{"type":"line","stroke":"#222","strokeWidth":1.2},"encoding":{"order":{"field":"i"}}},
{"data":{"name":"ticks"},"mark":{"type":"line","stroke":"#333","strokeWidth":1},"encoding":{"detail":{"field":"id"}}},
{"data":{"name":"barlabels"},"mark":{"type":"text","font":"DejaVu Sans","fontSize":14,"color":"#333","align":"left","baseline":"middle"},"encoding":{"text":{"field":"t"}}},
{"data":{"name":"grid"},"mark":{"type":"line","stroke":"#c5161d","strokeWidth":1.6,"strokeDash":[18,5,2,5,2,5]},"encoding":{"detail":{"field":"id"},"order":{"field":"i"}}},
{"data":{"name":"a25"},"mark":{"type":"line","stroke":"#c5161d","strokeWidth":2},"encoding":{"order":{"field":"i"}}},
{"data":{"name":"a24"},"mark":{"type":"line","stroke":"#c00000","strokeWidth":3},"encoding":{"order":{"field":"i"}}},
{"data":{"name":"ablack"},"mark":{"type":"line","stroke":"#000000","strokeWidth":7,"strokeCap":"round","strokeJoin":"round"},"encoding":{"order":{"field":"i"}}},
{"data":{"values":[{"x":-19.05,"y":42.3,"t":"matrice"}]},"mark":{"type":"text","font":"Lato","fontStyle":"italic","fontSize":35,"color":"#c5161d","angle":10},"encoding":{"text":{"field":"t"}}},
{"data":{"values":[{"x":31.48,"y":35.47,"t":"25 µm"}]},"mark":{"type":"text","font":"Lato","fontSize":31,"color":"#c5161d","angle":10},"encoding":{"text":{"field":"t"}}},
{"data":{"values":[{"x":1.0,"y":2.06,"t":"24, 6µm"}]},"mark":{"type":"text","font":"Lato","fontWeight":900,"fontSize":29,"color":"#c00000","angle":10},"encoding":{"text":{"field":"t"}}},
{"data":{"values":[{"x":2.17,"y":12.26,"t":"0.500"}]},"mark":{"type":"text","font":"DejaVu Sans","fontSize":23,"color":"#d61a1a","angle":6},"encoding":{"text":{"field":"t"}}},
{"data":{"values":[{"x":-29.48,"y":4.64,"t":"µm"},{"x":-0.18,"y":-29.7,"t":"µm"}]},"mark":{"type":"text","font":"Liberation Serif","fontWeight":"bold","fontSize":31,"color":"#111"},"encoding":{"text":{"field":"t"}}},
{"data":{"values":[{"x":61.25,"y":-10.13,"t":"Effet de crosstalk en trèfle"},{"x":61.25,"y":-14.58,"t":"(diffusion électronique non"},{"x":61.25,"y":-18.92,"t":"homogène)"}]},"mark":{"type":"text","font":"Lato","fontWeight":"bold","fontSize":28.5,"color":"#111"},"encoding":{"text":{"field":"t"}}}
]}
